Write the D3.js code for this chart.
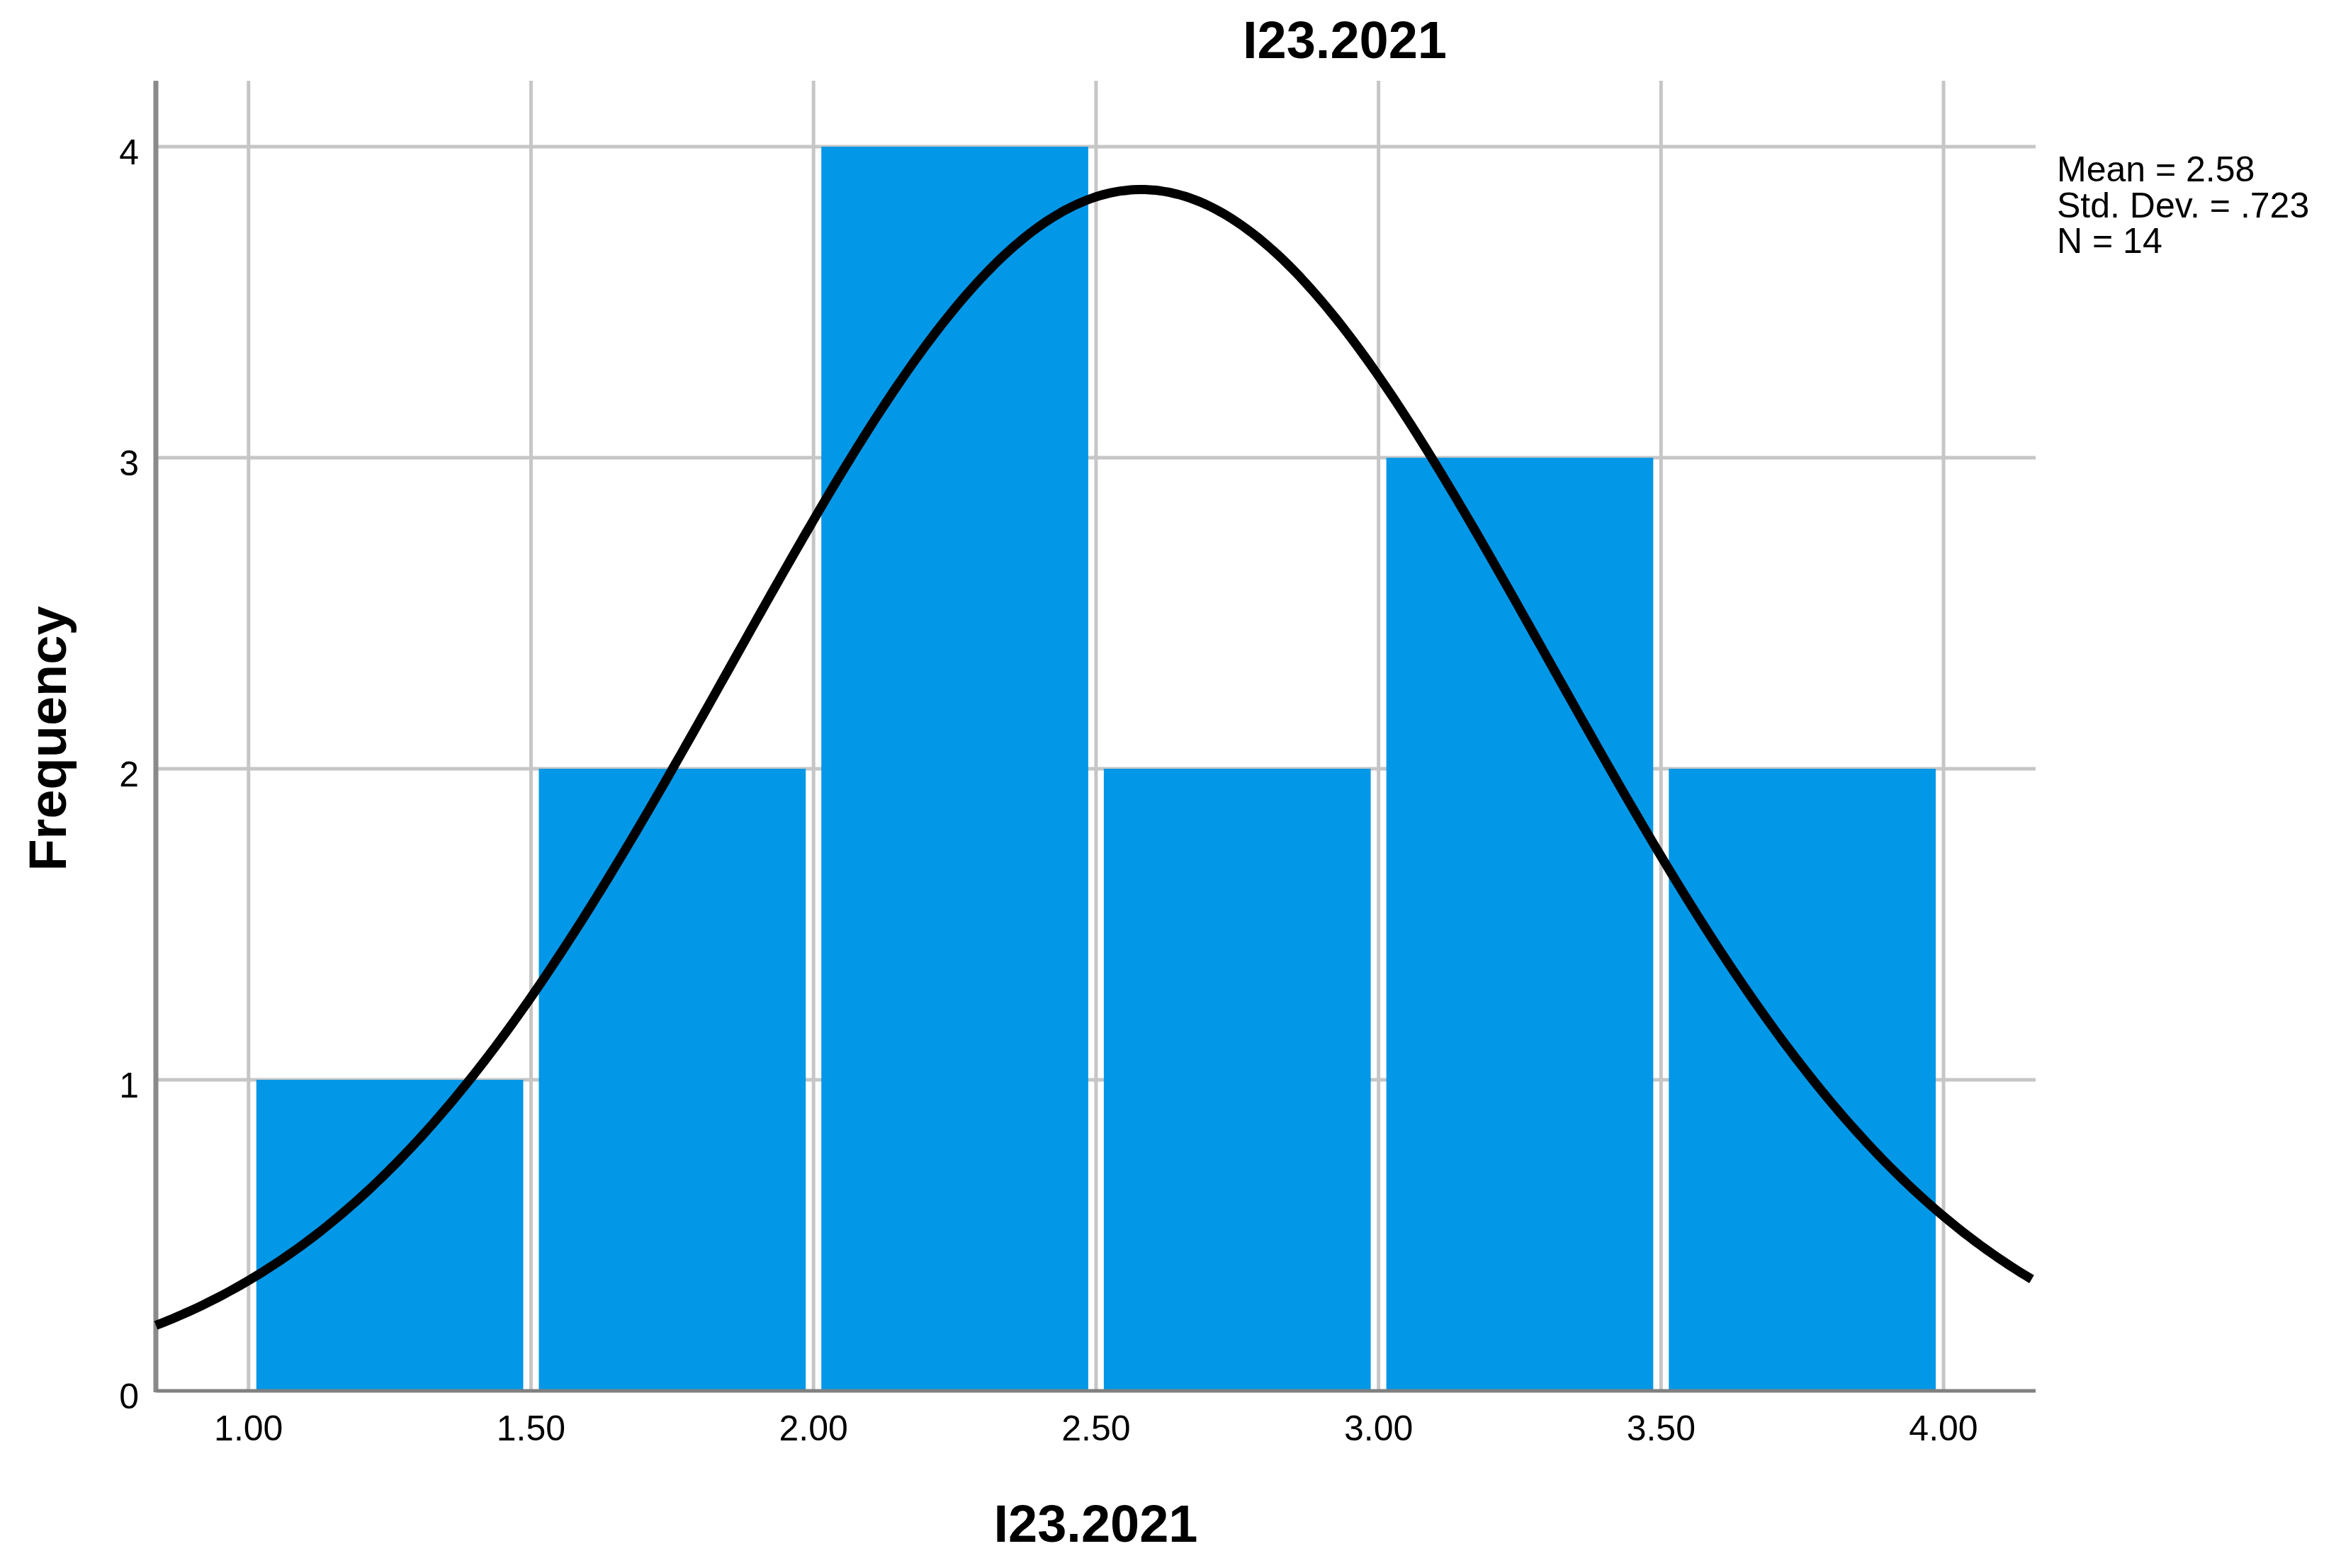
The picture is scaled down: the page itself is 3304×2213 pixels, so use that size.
<!DOCTYPE html>
<html>
<head>
<meta charset="utf-8">
<script src="https://cdn.jsdelivr.net/npm/d3@7"></script>
<style>
    body { margin: 0; background: #fff; }
    text { font-family: "Liberation Sans", Arial, sans-serif; fill: #000; }
    .tick-label { font-size: 50px; }
    .axis-title { font-size: 74px; font-weight: bold; }
    .stats { font-size: 50px; }
</style>
</head>
<body>
<div id="chart"></div>
<script>
// Histogram bins and counts
const binLow = [1.00, 1.50, 2.00, 2.50, 3.00, 3.50];
const binHigh = [1.50, 2.00, 2.50, 3.00, 3.50, 4.00];
const frequencies = [1, 2, 4, 2, 3, 2];

// Tick values
const xTicks = [1.00, 1.50, 2.00, 2.50, 3.00, 3.50, 4.00];
const yTicks = [0, 1, 2, 3, 4];

// Summary statistics printed beside the plot
const statLabels = ["Mean = 2.58", "Std. Dev. = .723", "N = 14"];
const mean = 2.58;
const stdDev = 0.723;
const n = 14;

const titleText = "I23.2021";

document.addEventListener('DOMContentLoaded', () => {
    drawHistogram();
});

function drawHistogram() {
    const width = 3304;
    const height = 2213;

    // plot frame
    const plot = { left: 220, right: 2873, top: 114, bottom: 1963 };

    const svg = d3.select("#chart")
        .append("svg")
        .attr("width", width)
        .attr("height", height);

    svg.append("rect")
        .attr("width", width)
        .attr("height", height)
        .attr("fill", "#fff");

    const x = d3.scaleLinear()
        .domain([0.836, 4.163])
        .range([plot.left, plot.right]);

    const y = d3.scaleLinear()
        .domain([0, 4.212])
        .range([plot.bottom, plot.top]);

    // Grid lines (behind bars)
    svg.append("g")
        .selectAll("line")
        .data(xTicks)
        .enter()
        .append("line")
        .attr("x1", d => x(d))
        .attr("x2", d => x(d))
        .attr("y1", plot.top)
        .attr("y2", plot.bottom)
        .attr("stroke", "#c6c6c6")
        .attr("stroke-width", 5);

    svg.append("g")
        .selectAll("line")
        .data(yTicks.filter(d => d > 0))
        .enter()
        .append("line")
        .attr("x1", plot.left)
        .attr("x2", plot.right)
        .attr("y1", d => y(d))
        .attr("y2", d => y(d))
        .attr("stroke", "#c6c6c6")
        .attr("stroke-width", 5);

    // Bars, inset a little from the bin edges
    const inset = 11;
    svg.append("g")
        .selectAll("rect")
        .data(frequencies)
        .enter()
        .append("rect")
        .attr("x", (d, i) => x(binLow[i]) + inset)
        .attr("width", (d, i) => x(binHigh[i]) - x(binLow[i]) - 2 * inset)
        .attr("y", d => y(d))
        .attr("height", d => y(0) - y(d))
        .attr("fill", "#0397e7");

    // Axis lines
    svg.append("line")
        .attr("x1", plot.left)
        .attr("x2", plot.left)
        .attr("y1", plot.top)
        .attr("y2", plot.bottom + 2)
        .attr("stroke", "#8a8a8a")
        .attr("stroke-width", 7);

    svg.append("line")
        .attr("x1", plot.left)
        .attr("x2", plot.right)
        .attr("y1", plot.bottom)
        .attr("y2", plot.bottom)
        .attr("stroke", "#808080")
        .attr("stroke-width", 5);

    // Normal curve from the printed mean and std. dev.
    const binWidth = binHigh[0] - binLow[0];
    const scale = n * binWidth / (stdDev * Math.sqrt(2 * Math.PI));
    const curveX = d3.range(x.domain()[0], x.domain()[1] + 0.0001, 0.01);
    const line = d3.line()
        .x(d => x(d))
        .y(d => y(scale * Math.exp(-0.5 * Math.pow((d - mean) / stdDev, 2))))
        .curve(d3.curveBasis);

    svg.append("path")
        .datum(curveX)
        .attr("d", line)
        .attr("fill", "none")
        .attr("stroke", "#000")
        .attr("stroke-width", 13);

    // Tick labels
    svg.append("g")
        .selectAll("text")
        .data(xTicks)
        .enter()
        .append("text")
        .attr("class", "tick-label")
        .attr("x", d => x(d))
        .attr("y", 2033)
        .attr("text-anchor", "middle")
        .text(d => d3.format(".2f")(d));

    svg.append("g")
        .selectAll("text")
        .data(yTicks)
        .enter()
        .append("text")
        .attr("class", "tick-label")
        .attr("x", 196)
        .attr("y", d => y(d) + 25)
        .attr("text-anchor", "end")
        .text(d => d);

    // Titles
    svg.append("text")
        .attr("class", "axis-title")
        .attr("x", 1898)
        .attr("y", 82)
        .attr("text-anchor", "middle")
        .text(titleText);

    svg.append("text")
        .attr("class", "axis-title")
        .attr("x", (plot.left + plot.right) / 2)
        .attr("y", 2176)
        .attr("text-anchor", "middle")
        .text(titleText);

    svg.append("text")
        .attr("class", "axis-title")
        .attr("transform", `translate(93, ${(plot.top + plot.bottom) / 2 + 4}) rotate(-90)`)
        .attr("text-anchor", "middle")
        .text("Frequency");

    // Stats block
    svg.append("g")
        .selectAll("text")
        .data(statLabels)
        .enter()
        .append("text")
        .attr("class", "stats")
        .attr("x", 2903)
        .attr("y", (d, i) => 256 + i * 50.5)
        .text(d => d);
}
</script>
</body>
</html>
